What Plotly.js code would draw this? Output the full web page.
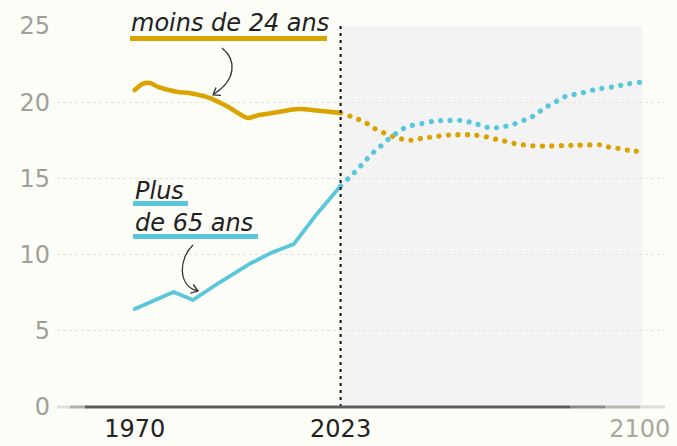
<!DOCTYPE html>
<html>
<head>
<meta charset="utf-8">
<script src="https://cdn.plot.ly/plotly-3.0.1.min.js"></script>
<style>
  html, body { margin: 0; padding: 0; background: #fdfdf8; }
  #chart { width: 677px; height: 446px; }
  .js-line { stroke-linecap: round; stroke-linejoin: round; }
</style>
</head>
<body>
<div id="chart"></div>
<script>
// ---- data ----
const pastYearsYoung = [1970, 1972, 1974, 1976, 1981, 1984, 1989, 1994, 1999, 2002, 2007, 2012, 2018, 2023];
const pastYoung      = [20.8, 21.2, 21.26, 21.0, 20.67, 20.6, 20.3, 19.7, 18.96, 19.16, 19.36, 19.55, 19.42, 19.3];
const projYearsYoung = [2023, 2026, 2028, 2030, 2032, 2035, 2037, 2039, 2042, 2044, 2046, 2049, 2051, 2054, 2056, 2058, 2061, 2063, 2066, 2068, 2071, 2073, 2076, 2080, 2084, 2088, 2090, 2092, 2095, 2097, 2100];
const projYoung      = [19.3, 19.03, 18.83, 18.57, 18.24, 17.9, 17.7, 17.57, 17.5, 17.65, 17.7, 17.8, 17.85, 17.87, 17.87, 17.83, 17.7, 17.57, 17.4, 17.27, 17.17, 17.13, 17.13, 17.15, 17.18, 17.2, 17.2, 17.06, 16.95, 16.85, 16.76];

const pastYearsOld = [1970, 1980, 1985, 1992, 2000, 2005, 2011, 2017, 2023];
const pastOld      = [6.43, 7.55, 7.02, 8.2, 9.45, 10.1, 10.7, 12.7, 14.5];
const projYearsOld = [2023, 2025, 2027, 2029, 2031, 2033, 2035, 2037, 2039, 2041, 2044, 2047, 2050, 2054, 2057, 2060, 2062, 2065, 2067, 2069, 2072, 2074, 2076, 2078, 2080, 2083, 2085, 2088, 2090, 2093, 2095, 2097, 2100];
const projOld      = [14.5, 15.0, 15.5, 16.05, 16.6, 17.05, 17.5, 17.9, 18.25, 18.45, 18.6, 18.75, 18.8, 18.8, 18.65, 18.4, 18.3, 18.4, 18.5, 18.7, 19.0, 19.35, 19.7, 19.95, 20.3, 20.5, 20.6, 20.8, 20.9, 21.0, 21.1, 21.2, 21.3];

const yTicks = [0, 5, 10, 15, 20, 25];
const xTicks = [1970, 2023, 2100];
const xTickLabels = ['1970', '2023', '<span style="color:#a8a89e">2100</span>'];
const labelYoung = 'moins de 24 ans';
const labelOld1 = 'Plus';
const labelOld2 = 'de 65 ans';
const nowYear = 2023;
const endYear = 2100;

// ---- style ----
const ORANGE = '#daa400';
const BLUE = '#59c6dc';
const FONT = 'DejaVu Sans';
const M = {l: 57, r: 12, t: 26, b: 39};
const W = 677, H = 446;
const PW = W - M.l - M.r, PH = H - M.t - M.b;
const px = x => (x - M.l) / PW;
const py = y => (H - M.b - y) / PH;

const dotted = '0.1px,9.4px';

const traces = [
  {x: pastYearsYoung, y: pastYoung, mode: 'lines', line: {color: ORANGE, width: 4.6, shape: 'spline', smoothing: 0.6}, hoverinfo: 'skip'},
  {x: projYearsYoung, y: projYoung, mode: 'lines', line: {color: ORANGE, width: 5.2, dash: dotted, shape: 'spline', smoothing: 0.8}, hoverinfo: 'skip'},
  {x: pastYearsOld, y: pastOld, mode: 'lines', line: {color: BLUE, width: 3.8}, hoverinfo: 'skip'},
  {x: projYearsOld, y: projOld, mode: 'lines', line: {color: BLUE, width: 5.2, dash: dotted, shape: 'spline', smoothing: 0.8}, hoverinfo: 'skip'}
];

function seg(x0, x1, color) {
  return {type: 'line', xref: 'paper', yref: 'paper', x0: px(x0), x1: px(x1), y0: 0, y1: 0,
          line: {color: color, width: 3}, layer: 'above'};
}
function bar(x0, x1, y0, y1, color) {
  return {type: 'rect', xref: 'paper', yref: 'paper', x0: px(x0), x1: px(x1), y0: py(y1), y1: py(y0),
          fillcolor: color, line: {width: 0}, layer: 'above'};
}
function pth(d, color) {
  return {type: 'path', xref: 'paper', yref: 'paper', path: d, line: {color: color, width: 1.3}, layer: 'above'};
}
const P = (x, y) => px(x) + ' ' + py(y);

const shapes = [
  {type: 'rect', xref: 'x', yref: 'y', x0: nowYear, x1: endYear + 0.6, y0: 0, y1: 25,
   fillcolor: '#f3f3f3', line: {width: 0}, layer: 'below'},
  {type: 'line', xref: 'x', yref: 'y', x0: nowYear, x1: nowYear, y0: 0, y1: 25,
   line: {color: '#111', width: 2, dash: '3px,4px'}, layer: 'above'},
  seg(57, 70, '#e0e0d8'), seg(70, 85, '#b0b0a8'), seg(85, 570, '#5c5c58'),
  seg(570, 605, '#8a8a85'), seg(605, 640, '#b8b8b0'), seg(640, 665, '#deded6'),
  bar(130, 327, 36, 41, ORANGE),
  bar(133, 188, 201, 206, BLUE),
  bar(133, 258, 234, 239, BLUE),
  pth('M ' + P(222, 48) + ' C ' + P(237, 60) + ', ' + P(236, 80) + ', ' + P(214, 94), '#333'),
  pth('M ' + P(221, 95.3) + ' L ' + P(213, 95) + ' L ' + P(216, 87.6), '#333'),
  pth('M ' + P(193, 245) + ' C ' + P(179, 258) + ', ' + P(177, 286) + ', ' + P(198, 291), '#333'),
  pth('M ' + P(190.3, 293.2) + ' L ' + P(198, 291) + ' L ' + P(193.3, 284.5), '#333')
];

const annFont = {family: FONT, size: 24, color: '#222', style: 'italic'};
const annotations = [
  {xref: 'paper', yref: 'paper', x: px(129), y: py(39), xanchor: 'left', yanchor: 'bottom', text: labelYoung, showarrow: false, font: annFont},
  {xref: 'paper', yref: 'paper', x: px(133), y: py(207), xanchor: 'left', yanchor: 'bottom', text: labelOld1, showarrow: false, font: annFont},
  {xref: 'paper', yref: 'paper', x: px(133), y: py(239), xanchor: 'left', yanchor: 'bottom', text: labelOld2, showarrow: false, font: annFont}
];

const layout = {
  width: W, height: H,
  margin: M,
  paper_bgcolor: '#fdfdf8',
  plot_bgcolor: '#fdfdf8',
  showlegend: false,
  xaxis: {
    range: [1950, 2106.5], tickvals: xTicks, ticktext: xTickLabels,
    showgrid: false, zeroline: false, showline: false, ticks: '',
    tickfont: {family: FONT, size: 24, color: '#222'}, ticklabelstandoff: 5, fixedrange: true
  },
  yaxis: {
    range: [0, 25], tickvals: yTicks, showgrid: true, gridcolor: '#e2e2da', gridwidth: 1, griddash: 'dot',
    zeroline: false, showline: false, ticks: '',
    tickfont: {family: FONT, size: 24, color: '#a0a098'}, ticklabelstandoff: 6, fixedrange: true
  },
  shapes: shapes,
  annotations: annotations
};

Plotly.newPlot('chart', traces, layout, {staticPlot: true, displayModeBar: false});
</script>
</body>
</html>
